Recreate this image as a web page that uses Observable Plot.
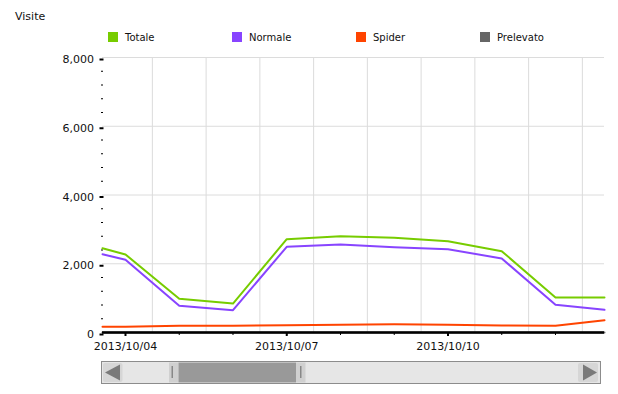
<!DOCTYPE html>
<html>
<head>
<meta charset="utf-8">
<script src="https://cdn.jsdelivr.net/npm/d3@7"></script>
<script src="https://cdn.jsdelivr.net/npm/@observablehq/plot@0.6"></script>
<style>
  body { margin: 0; background: #fff; }
  #root { position: relative; width: 618px; height: 394px; font-family: "DejaVu Sans", sans-serif; color: #111; overflow: hidden; }
  .title { position: absolute; left: 15px; top: 10px; font-size: 11px; }
  .leg { position: absolute; top: 32px; display: flex; align-items: center; font-size: 10px; height: 10px; }
  .sw { width: 10px; height: 10px; margin-right: 7px; }
  #chart { position: absolute; left: 0; top: 45px; }
  #scroll { position: absolute; left: 0; top: 358px; }
</style>
</head>
<body>
<div id="root">
  <div class="title">Visite</div>
  <div id="legend"></div>
  <div id="chart"></div>
  <svg id="scroll" width="618" height="30"></svg>
</div>
<script>
// ---- data ----
const seriesNames = ["Totale", "Normale", "Spider", "Prelevato"];
const seriesColors = ["#77cc00", "#8844ff", "#ff4400", "#666666"];
// first and last entries are the values at the visible window edges
const dates = ["2013-10-03T13:44", "2013-10-04", "2013-10-05", "2013-10-06", "2013-10-07", "2013-10-08",
               "2013-10-09", "2013-10-10", "2013-10-11", "2013-10-12", "2013-10-12T21:53"];
const totale    = [2450, 2270, 980, 843, 2715, 2800, 2755, 2656, 2366, 1018, 1018];
const normale   = [2278, 2114, 776, 650, 2493, 2560, 2482, 2424, 2153, 805, 660];
const spider    = [165, 165, 195, 200, 213, 223, 240, 223, 204, 195, 358];
const prelevato = [0, 0, 0, 0, 0, 0, 0, 0, 0, 0, 0];
const yMajorTicks = [0, 2000, 4000, 6000, 8000];
const xLabelTicks = ["2013-10-04", "2013-10-07", "2013-10-10"];
const xDayTicks = ["2013-10-04", "2013-10-05", "2013-10-06", "2013-10-07", "2013-10-08", "2013-10-09", "2013-10-10", "2013-10-11", "2013-10-12"];
const xGridTicks = ["2013-10-04T12:00", "2013-10-05T12:00", "2013-10-06T12:00", "2013-10-07T12:00", "2013-10-08T12:00",
                    "2013-10-09T12:00", "2013-10-10T12:00", "2013-10-11T12:00", "2013-10-12T12:00"];

const parse = s => new Date(s + (s.length === 10 ? "T00:00Z" : "Z"));
const valuesBySeries = {Totale: totale, Normale: normale, Spider: spider, Prelevato: prelevato};
const drawOrder = ["Prelevato", "Spider", "Normale", "Totale"];
const data = drawOrder.flatMap(s => dates.map((d, i) => ({series: s, date: parse(d), value: valuesBySeries[s][i]})));
const yMinor = d3.range(0, 8001, 400).filter(v => !yMajorTicks.includes(v));

// legend
const legend = document.getElementById("legend");
seriesNames.forEach((name, i) => {
  const el = document.createElement("div");
  el.className = "leg";
  el.style.left = (108 + i * 124) + "px";
  el.innerHTML = `<div class="sw" style="background:${seriesColors[i]}"></div><span>${name}</span>`;
  legend.appendChild(el);
});

const fmtDate = d3.utcFormat("%Y/%m/%d");
const chart = Plot.plot({
  width: 618,
  height: 310,
  marginLeft: 102,
  marginRight: 14,
  marginTop: 12,
  marginBottom: 23,
  style: {fontFamily: "DejaVu Sans", fontSize: "11px", color: "#111", background: "transparent"},
  x: {type: "utc", domain: [parse(dates[0]), parse(dates[dates.length - 1])], label: null},
  y: {domain: [0, 8000], label: null},
  color: {domain: seriesNames, range: seriesColors},
  marks: [
    Plot.gridX(xGridTicks.map(parse), {stroke: "#dcdcdc", strokeOpacity: 1}),
    Plot.gridY(yMajorTicks.filter(v => v > 0), {stroke: "#dcdcdc", strokeOpacity: 1}),
    Plot.axisY(yMinor, {tickSize: 2, dx: 1, tickFormat: () => "", stroke: "#000"}),
    Plot.axisY(yMajorTicks, {tickSize: 4, dx: 1.5, dy: 2, strokeWidth: 2, tickPadding: 6, tickFormat: d3.format(","), stroke: "#000"}),
    Plot.line(data, {x: "date", y: "value", z: "series", stroke: "series", strokeWidth: 2}),
    Plot.ruleY([0], {stroke: "#000", strokeWidth: 2.5}),
    Plot.axisX(xDayTicks.map(parse), {tickSize: 3, tickFormat: () => "", stroke: "#000"}),
    Plot.axisX(xLabelTicks.map(parse), {tickSize: 4, strokeWidth: 2, tickPadding: 6, tickFormat: fmtDate, stroke: "#000"})
  ]
});
document.getElementById("chart").appendChild(chart);

// scrollbar (decoration)
const sc = d3.select("#scroll");
const oy = 358;
sc.append("rect").attr("x", 101.5).attr("y", 361.5 - oy).attr("width", 499).attr("height", 22)
  .attr("fill", "#e6e6e6").attr("stroke", "#8c8c8c");
sc.append("rect").attr("x", 103).attr("y", 363 - oy).attr("width", 19.5).attr("height", 19).attr("rx", 2).attr("fill", "#d6d6d6");
sc.append("path").attr("d", `M105,${372.5 - oy}L120,${364.5 - oy}L120,${380.5 - oy}Z`).attr("fill", "#7a7a7a");
sc.append("rect").attr("x", 578).attr("y", 363 - oy).attr("width", 20).attr("height", 19).attr("rx", 2).attr("fill", "#d6d6d6");
sc.append("path").attr("d", `M597,${372.5 - oy}L583,${364.5 - oy}L583,${380.5 - oy}Z`).attr("fill", "#7a7a7a");
sc.append("rect").attr("x", 169).attr("y", 362.5 - oy).attr("width", 9.5).attr("height", 20).attr("fill", "#d0d0d0");
sc.append("rect").attr("x", 178.5).attr("y", 362.5 - oy).attr("width", 117.5).attr("height", 20).attr("fill", "#999999");
sc.append("rect").attr("x", 296).attr("y", 362.5 - oy).attr("width", 9.5).attr("height", 20).attr("fill", "#d0d0d0");
sc.append("rect").attr("x", 171.5).attr("y", 366 - oy).attr("width", 1.5).attr("height", 12).attr("fill", "#888");
sc.append("rect").attr("x", 300).attr("y", 366 - oy).attr("width", 1.5).attr("height", 12).attr("fill", "#888");
</script>
</body>
</html>
